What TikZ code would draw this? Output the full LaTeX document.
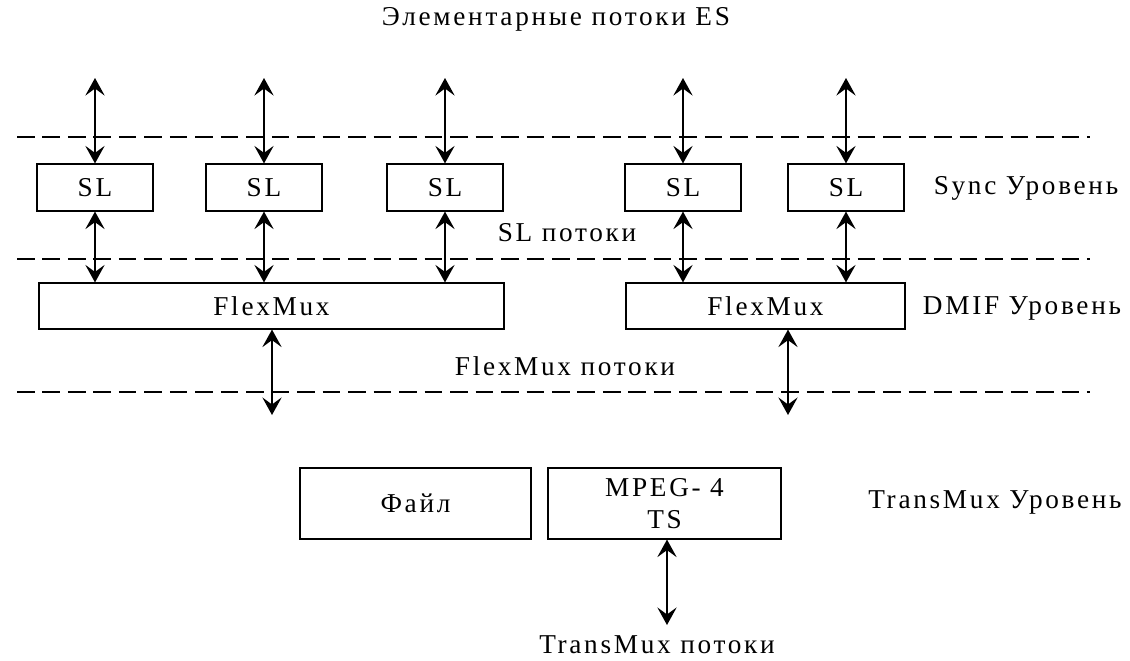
\documentclass[tikz,border=0pt]{standalone}
\usepackage{fontspec}
\setmainfont{Liberation Serif}[LetterSpace=10]
\usetikzlibrary{positioning,arrows.meta}
\tikzstyle{box} = [
    rectangle, draw, text centered,
    minimum height=0.94cm,
    line width=0.65pt,
    inner sep=0pt,
]
\tikzstyle{slbox} = [box, minimum width=2.32cm]
\tikzstyle{muxbox} = [box, minimum height=0.92cm]
\tikzstyle{tmbox} = [box, minimum width=4.66cm, minimum height=1.42cm, align=center]
\tikzstyle{layer} = [dash pattern=on 10pt off 4.5pt, line width=0.6pt]
\tikzstyle{arrow} = [<->,>={Stealth[length=10pt,width=11pt,inset=4pt]}, line width=0.9pt]
\tikzstyle{lbl} = [inner sep=0pt]

\begin{document}
\begin{tikzpicture}[x=0.02cm, y=-0.02cm, font=\fontsize{15.5}{18}\selectfont]
    \useasboundingbox (0,0) rectangle (1130,660);

    % layers
    \foreach \y in {137,259,392}
        \draw [layer] (17,\y) -- (1090,\y);

    % SL boxes
    \foreach \i/\x in {1/95,2/264,3/445,4/683,5/846} {
        \node (sl\i) at (\x,187.5) [slbox] {SL};
        \coordinate (es\i) at (\x,78);
    }

    % FlexMux boxes
    \node (fm1) at (271.5,306) [muxbox, minimum width=9.3cm] {FlexMux};
    \node (fm2) at (765.5,306) [muxbox, minimum width=5.58cm] {FlexMux};
    \coordinate (fmout1) at (272,415);
    \coordinate (fmout2) at (788,415);

    % TransMux boxes
    \node (file) at (415.5,503.5) [tmbox, minimum width=4.62cm] {Файл};
    \node (ts) at (664.5,503.5) [tmbox] {MPEG- 4\\TS};
    \coordinate (tsout) at (667,625);

    % labels
    \node (es) at (556,19) [lbl] {Элементарные потоки ES};
    \node (sync) at (1026,188) [lbl] {Sync Уровень};
    \node (slstr) at (567,233) [lbl] {SL потоки};
    \node (dmif) at (1022,308) [lbl] {DMIF Уровень};
    \node (fmstr) at (565,366) [lbl] {FlexMux потоки};
    \node (tmlay) at (995,502) [lbl] {TransMux Уровень};
    \node (tmstr) at (657,645) [lbl] {TransMux потоки};

    % arrows
    \foreach \i in {1,...,5}
        \draw [arrow] (es\i) to (sl\i.north);
    \foreach \i in {1,2,3}
        \draw [arrow] (sl\i.south) to (sl\i.south |- fm1.north);
    \foreach \i in {4,5}
        \draw [arrow] (sl\i.south) to (sl\i.south |- fm2.north);
    \draw [arrow] (fmout1 |- fm1.south) to (fmout1);
    \draw [arrow] (fmout2 |- fm2.south) to (fmout2);
    \draw [arrow] (tsout |- ts.south) to (tsout);

\end{tikzpicture}
\end{document}
